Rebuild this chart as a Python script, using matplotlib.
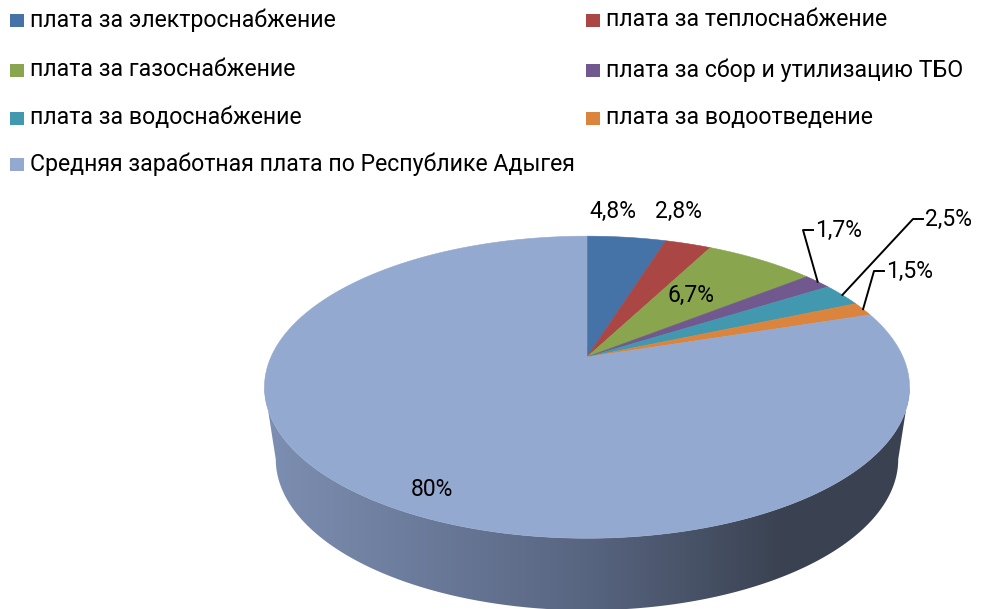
import numpy as np
import matplotlib.pyplot as plt
from matplotlib.patches import Polygon, Rectangle
from matplotlib.colors import LinearSegmentedColormap

plt.rcParams['font.family'] = ['Roboto', 'DejaVu Sans']

# data
labels = ["плата за электроснабжение", "плата за теплоснабжение",
          "плата за газоснабжение", "плата за сбор и утилизацию ТБО",
          "плата за водоснабжение", "плата за водоотведение",
          "Средняя заработная плата по Республике Адыгея"]
values = [4.8, 2.8, 6.7, 1.7, 2.5, 1.5, 80]
value_text = ["4,8%", "2,8%", "6,7%", "1,7%", "2,5%", "1,5%", "80%"]
colors = ["#4572A7", "#AA4643", "#89A54E", "#71588F", "#4198AF", "#DB843D", "#93A9CF"]

# layout (pixels)
W, H = 981, 609
CX, CY = 587, 357      # apex of the pie
R, K, P = 316, 145, 0.2  # horizontal radius, depth radius, perspective
THICK = 72
SHRINK = 0.965

fig = plt.figure(figsize=(W / 100, H / 100), dpi=100)
ax = fig.add_axes([0, 0, 1, 1])
ax.set_xlim(0, W)
ax.set_ylim(H, 0)
ax.axis('off')


def proj(theta, r=1.0, bottom=False):
    u = r * np.sin(theta)
    v = r * np.cos(theta)
    s = 1 / (1 + P * v)
    x = CX + R * u * s
    y = CY - K * v * s
    if bottom:
        x = CX + (x - CX) * SHRINK
        y = y + THICK
    return x, y


# side wall (front part, only the big slice shows there)
t = np.linspace(0, 2 * np.pi, 2000)
xs, ys = proj(t)
i_right = np.argmax(xs)
i_left = np.argmin(xs)
tf = t[i_right:i_left + 1]
xt, yt = proj(tf)
xb, yb = proj(tf, bottom=True)
side_pts = np.column_stack([np.r_[xt, xb[::-1]], np.r_[yt, yb[::-1]]])
side = Polygon(side_pts, closed=True, fc='none', ec='none')
ax.add_patch(side)
side_cmap = LinearSegmentedColormap.from_list(
    "side", [(0, "#7d8fb2"), (0.5, "#586581"), (0.8, "#3b4352"), (1, "#3a4251")])
grad = np.linspace(0, 1, 256).reshape(1, -1)
im = ax.imshow(grad, cmap=side_cmap, aspect='auto',
               extent=[xs.min(), xs.max(), yb.max() + 2, yt.min()], zorder=1)
im.set_clip_path(side)

# top face
total = sum(values)
start = 0.0
bounds = []
for val, col in zip(values, colors):
    a = start / total * 2 * np.pi
    b = (start + val) / total * 2 * np.pi
    bounds.append((a, b))
    tt = np.linspace(a, b, max(int(val * 8), 4))
    px, py = proj(tt)
    pts = np.column_stack([np.r_[CX, px], np.r_[CY, py]])
    ax.add_patch(Polygon(pts, closed=True, fc=col, ec=col, lw=0.4, zorder=2))
    start += val

# data labels
fs = 16.5
ax.text(613, 211, value_text[0], ha='center', va='center', fontsize=fs, zorder=4)
ax.text(679, 211, value_text[1], ha='center', va='center', fontsize=fs, zorder=4)
gx, gy = proj(np.mean(bounds[2]), 0.6)
ax.text(gx - 6, gy, value_text[2], ha='center', va='center', fontsize=fs, zorder=4)
ax.text(432, 490, value_text[6], ha='center', va='center', fontsize=fs, zorder=4)

# leader-line labels
callouts = {3: (815, 230), 4: (925, 219), 5: (886, 271)}
for i, (lx, ly) in callouts.items():
    rx, ry = proj(np.mean(bounds[i]))
    ax.plot([rx, lx - 12, lx - 2], [ry, ly, ly], color='black', lw=1.4, zorder=3)
    ax.text(lx, ly, value_text[i], ha='left', va='center', fontsize=fs, zorder=4)

# legend
leg_pos = [(10, 20), (586, 20), (10, 70), (586, 70), (10, 118), (586, 118), (10, 164)]
for (lx, ly), lab, col in zip(leg_pos, labels, colors):
    ax.add_patch(Rectangle((lx, ly - 6.5), 14, 13, fc=col, ec='none'))
    ax.text(lx + 20, ly, lab, ha='left', va='center', fontsize=16.7)

fig.savefig("out.png", dpi=100)
